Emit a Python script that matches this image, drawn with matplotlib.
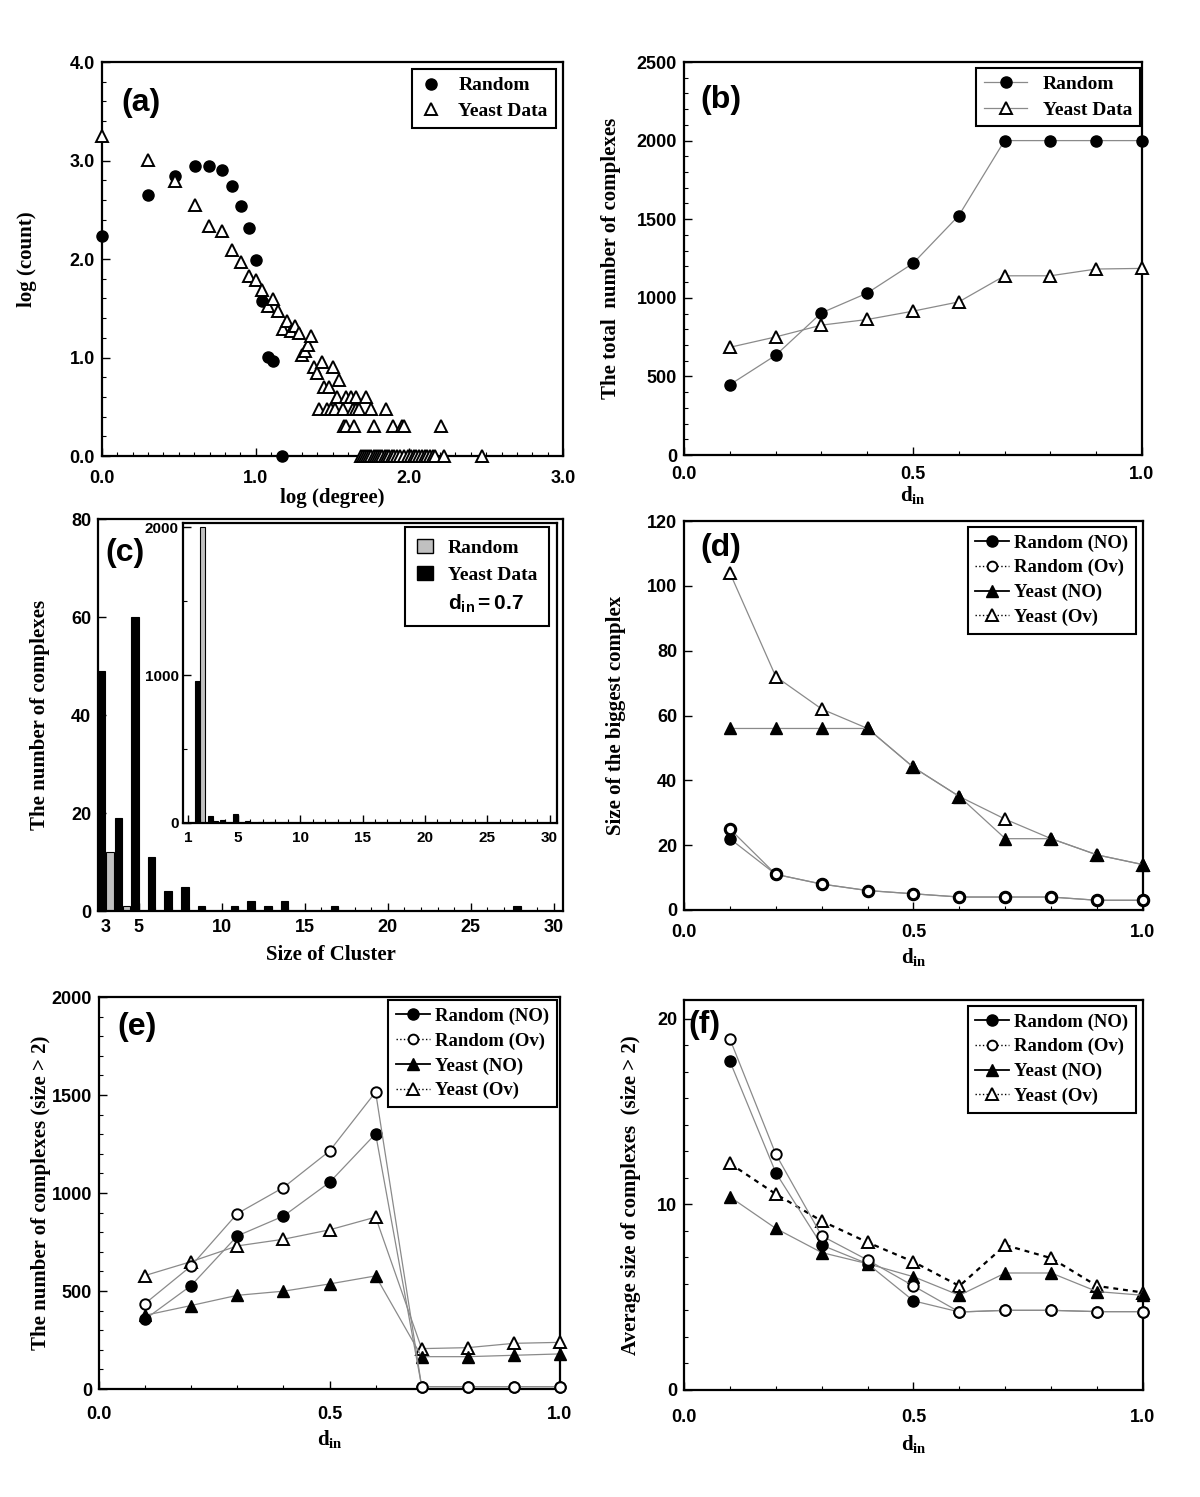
import numpy as np
import matplotlib
matplotlib.use("Agg")
import matplotlib.pyplot as plt
from matplotlib.lines import Line2D
from matplotlib.patches import Patch
from matplotlib.ticker import MultipleLocator

plt.rcParams['font.family'] = 'Liberation Serif'
plt.rcParams['mathtext.fontset'] = 'custom'
plt.rcParams['mathtext.rm'] = 'Liberation Serif:bold'
plt.rcParams['mathtext.it'] = 'Liberation Serif:bold'
plt.rcParams['mathtext.bf'] = 'Liberation Serif:bold'
plt.rcParams['mathtext.sf'] = 'Liberation Sans:bold'

# ---- (a) degree distribution (log10 values) ----
rand_logdeg = [0.0, 0.301, 0.477, 0.602, 0.699, 0.778, 0.845, 0.903, 0.954, 1.0,
               1.041, 1.079, 1.114, 1.17]
rand_logcnt = [2.23, 2.65, 2.84, 2.94, 2.94, 2.90, 2.74, 2.54, 2.31, 1.99,
               1.57, 1.01, 0.96, 0.0]
yeast_logdeg = [0.0, 0.301, 0.477, 0.602, 0.699, 0.778, 0.845, 0.903, 0.954, 1.0,
                1.041, 1.079, 1.114, 1.146, 1.176, 1.204, 1.23, 1.255, 1.279, 1.301,
                1.322, 1.342, 1.362, 1.38, 1.398, 1.431, 1.447, 1.477, 1.505, 1.544,
                1.531, 1.591, 1.623, 1.653, 1.716,
                1.415, 1.462, 1.491, 1.519, 1.568, 1.633, 1.653, 1.672, 1.748, 1.851,
                1.574, 1.587, 1.637, 1.767, 1.893, 1.952, 1.967, 2.207,
                1.685, 1.698, 1.709, 1.722, 1.735, 1.75, 1.767, 1.78, 1.793, 1.811,
                1.824, 1.839, 1.854, 1.87, 1.885, 1.902, 1.92, 1.941, 1.963, 1.989,
                2.011, 2.028, 2.046, 2.063, 2.08, 2.1, 2.115, 2.133, 2.152, 2.17,
                2.224, 2.472]
yeast_logcnt = [3.25, 3.01, 2.79, 2.55, 2.34, 2.28, 2.09, 1.97, 1.83, 1.79,
                1.69, 1.52, 1.59, 1.47, 1.29, 1.37, 1.27, 1.32, 1.25, 1.03,
                1.07, 1.13, 1.22, 0.90, 0.84, 0.95, 0.70, 0.70, 0.90, 0.77,
                0.602, 0.602, 0.602, 0.602, 0.602,
                0.477, 0.477, 0.477, 0.477, 0.477, 0.477, 0.477, 0.477, 0.477, 0.477,
                0.301, 0.301, 0.301, 0.301, 0.301, 0.301, 0.301, 0.301,
                0, 0, 0, 0, 0, 0, 0, 0, 0, 0,
                0, 0, 0, 0, 0, 0, 0, 0, 0, 0,
                0, 0, 0, 0, 0, 0, 0, 0, 0, 0,
                0, 0]

# ---- d_in axis shared by (b), (d), (e), (f) ----
d_in = [0.1, 0.2, 0.3, 0.4, 0.5, 0.6, 0.7, 0.8, 0.9, 1.0]

# (b) total number of complexes
b_random = [447, 634, 904, 1030, 1219, 1523, 2000, 2000, 2000, 2000]
b_yeast = [685, 751, 826, 862, 915, 974, 1140, 1140, 1183, 1187]

# (c) cluster size distribution at d_in = 0.7
c_sizes = list(range(2, 31))
c_random = [2000, 12, 1] + [0] * 26
c_yeast = [960, 49, 19, 60, 11, 4, 5, 1, 0, 1, 2, 1, 2, 0, 0, 1,
           0, 0, 0, 0, 0, 0, 0, 0, 0, 0, 1, 0, 0]

# (d) size of the biggest complex
d_rand_no = [22, 11, 8, 6, 5, 4, 4, 4, 3, 3]
d_rand_ov = [25, 11, 8, 6, 5, 4, 4, 4, 3, 3]
d_yeast_no = [56, 56, 56, 56, 44, 35, 22, 22, 17, 14]
d_yeast_ov = [104, 72, 62, 56, 44, 35, 28, 22, 17, 14]

# (e) number of complexes (size > 2)
e_rand_no = [356, 528, 781, 882, 1054, 1302, 12, 12, 12, 12]
e_rand_ov = [436, 628, 895, 1028, 1214, 1515, 12, 12, 12, 12]
e_yeast_no = [376, 426, 478, 499, 536, 577, 165, 165, 172, 179]
e_yeast_ov = [579, 650, 730, 764, 812, 877, 206, 211, 233, 238]

# (f) average size of complexes (size > 2)
f_rand_no = [17.7, 11.7, 7.8, 6.8, 4.8, 4.2, 4.29, 4.29, 4.22, 4.22]
f_rand_ov = [18.9, 12.7, 8.3, 7.0, 5.6, 4.2, 4.29, 4.29, 4.22, 4.22]
f_yeast_no = [10.4, 8.7, 7.4, 6.8, 6.1, 5.1, 6.3, 6.3, 5.3, 5.1]
f_yeast_ov = [12.2, 10.55, 9.1, 7.95, 6.9, 5.6, 7.8, 7.1, 5.6, 5.25]

W, H = 1200, 1497
GRAY = '#8a8a8a'
SANS = 'Liberation Sans'
LEG_FONT = {'family': 'Liberation Serif', 'weight': 'bold', 'size': 14}
LEG_FONT4 = {'family': 'Liberation Serif', 'weight': 'bold', 'size': 13.5}


def box(x0, x1, y0, y1):
    return [x0 / W, 1 - y1 / H, (x1 - x0) / W, (y1 - y0) / H]


def style(ax, xticks, xlabels, yticks, ylabels, xminor=None, yminor=None, size=13,
          xpad=10):
    ax.set_xticks(xticks, xlabels, fontfamily=SANS, fontweight='bold', fontsize=size)
    ax.set_yticks(yticks, ylabels, fontfamily=SANS, fontweight='bold', fontsize=size)
    if xminor:
        ax.xaxis.set_minor_locator(MultipleLocator(xminor))
    if yminor:
        ax.yaxis.set_minor_locator(MultipleLocator(yminor))
    ax.tick_params(which='both', direction='in', top=False, right=False)
    ax.tick_params(which='major', length=6, width=1)
    ax.tick_params(which='minor', length=3, width=0.8)
    ax.tick_params(axis='x', pad=xpad)
    ax.tick_params(axis='y', pad=5)
    for sp in ax.spines.values():
        sp.set_linewidth(1.6)


def labels(ax, xl, yl, xy, yx, tag, tagpos):
    ax.set_xlabel(xl, fontsize=15, fontweight='bold', va='top')
    ax.xaxis.set_label_coords(0.5, xy)
    ax.set_ylabel(yl, fontsize=15, fontweight='bold')
    ax.yaxis.set_label_coords(yx, 0.5)
    ax.text(tagpos[0], tagpos[1], tag, transform=ax.transAxes, fontsize=23,
            fontweight='bold', family=SANS, ha='left', va='center')


def legend(ax, handles, labs, anchor, prop=LEG_FONT, **kw):
    leg = ax.legend(handles, labs, loc='upper right', bbox_to_anchor=anchor,
                    borderaxespad=0, fancybox=False, framealpha=1,
                    edgecolor='black', prop=prop, **kw)
    leg.get_frame().set_linewidth(1.5)
    return leg


DIN = r'$\mathbf{d_{in}}$'
fig = plt.figure(figsize=(12, 14.97), dpi=100)

# ---------------- (a) ----------------
ax = fig.add_axes(box(102, 563, 62, 456))
ax.plot(rand_logdeg, rand_logcnt, 'o', color='black', ms=8, clip_on=False, zorder=3)
ax.plot(yeast_logdeg, yeast_logcnt, '^', mfc='white', mec='black', mew=1.4, ms=8.5,
        clip_on=False, zorder=3)
ax.set_xlim(0, 3)
ax.set_ylim(0, 4)
style(ax, [0, 1, 2, 3], ['0.0', '1.0', '2.0', '3.0'],
      [0, 1, 2, 3, 4], ['0.0', '1.0', '2.0', '3.0', '4.0'], 0.1, 0.2)
labels(ax, 'log (degree)', 'log (count)', -0.082, -0.14, '(a)', (0.043, 0.896))
legend(ax, [Line2D([], [], ls='none', marker='o', color='black', ms=8),
            Line2D([], [], ls='none', marker='^', mfc='white', mec='black', mew=1.4, ms=8.5)],
       ['Random', 'Yeast Data'], (0.984, 0.982), handlelength=1.2, labelspacing=0.4)

# ---------------- (b) ----------------
ax = fig.add_axes(box(684, 1142, 62, 455))
ax.plot(d_in, b_random, '-o', color=GRAY, lw=0.9, mfc='black', mec='black', ms=8,
        clip_on=False, zorder=3)
ax.plot(d_in, b_yeast, '-^', color=GRAY, lw=0.9, mfc='white', mec='black', mew=1.4,
        ms=8.5, clip_on=False, zorder=3)
ax.set_xlim(0, 1)
ax.set_ylim(0, 2500)
style(ax, [0, 0.5, 1], ['0.0', '0.5', '1.0'], np.arange(0, 2501, 500),
      [str(v) for v in range(0, 2501, 500)], 0.1, 100, xpad=8)
labels(ax, DIN, 'The total  number of complexes', -0.075, -0.137, '(b)', (0.035, 0.903))
legend(ax, [Line2D([], [], color=GRAY, lw=0.9, marker='o', mfc='black', mec='black', ms=8),
            Line2D([], [], color=GRAY, lw=0.9, marker='^', mfc='white', mec='black',
                   mew=1.4, ms=8.5)],
       ['Random', 'Yeast Data'], (0.995, 0.985), handlelength=2.2, labelspacing=0.4)

# ---------------- (c) ----------------
ax = fig.add_axes(box(98, 563, 519, 911))
ax.bar(c_sizes[1:], c_yeast[1:], width=-0.45, align='edge', color='black',
       edgecolor='black', lw=0.8)
ax.bar(np.array(c_sizes[1:]) + 0.05, c_random[1:], width=0.45, align='edge',
       color='#c0c0c0', edgecolor='black', lw=0.8)
ax.set_xlim(2.55, 30.55)
ax.set_ylim(0, 80)
style(ax, [3, 5, 10, 15, 20, 25, 30], ['3', '5', '10', '15', '20', '25', '30'],
      [0, 20, 40, 60, 80], ['0', '20', '40', '60', '80'], 1, None, xpad=6)
labels(ax, 'Size of Cluster', 'The number of complexes', -0.088, -0.103, '(c)',
       (0.015, 0.913))

ins = fig.add_axes(box(183, 557, 523, 823))
ins.bar(c_sizes, c_yeast, width=-0.4, align='edge', color='black', edgecolor='black',
        lw=0.8)
ins.bar(c_sizes, c_random, width=0.4, align='edge', color='#c0c0c0',
        edgecolor='black', lw=0.8)
ins.set_xlim(0.6, 30.6)
ins.set_ylim(0, 2030)
style(ins, [1, 5, 10, 15, 20, 25, 30], ['1', '5', '10', '15', '20', '25', '30'],
      [0, 1000, 2000], ['0', '1000', '2000'], 1, 500, size=11, xpad=6)
ins.tick_params(axis='y', pad=3)
leg = legend(ins, [Patch(facecolor='#c0c0c0', edgecolor='black'),
                   Patch(facecolor='black', edgecolor='black'),
                   Line2D([], [], ls='none')],
             ['Random', 'Yeast Data', r'$\mathsf{d_{in}=0.7}$'], (0.979, 0.987),
             handlelength=0.8, handleheight=0.8, labelspacing=0.45,
             borderpad=0.6)
leg.get_texts()[2].set_fontsize(15)

# ---------------- line panels (d), (e), (f) ----------------
def four_handles(ov_style=':'):
    return [Line2D([], [], color='black', lw=1.3, marker='o', mfc='black', mec='black', ms=8),
            Line2D([], [], color='black', lw=1, ls=ov_style, marker='o', mfc='white',
                   mec='black', mew=1.4, ms=7),
            Line2D([], [], color='black', lw=1.3, marker='^', mfc='black', mec='black', ms=8.5),
            Line2D([], [], color='black', lw=1, ls=ov_style, marker='^', mfc='white',
                   mec='black', mew=1.4, ms=8)]


FOUR = ['Random (NO)', 'Random (Ov)', 'Yeast (NO)', 'Yeast (Ov)']


def four_series(ax, rno, rov, yno, yov, yov_dashed=False, ring=1.4):
    kw = dict(clip_on=False, zorder=3)
    if yov_dashed:
        ax.plot(d_in, yov, '^', ls=(0, (2.2, 2.2)), color='black', lw=1.6,
                mfc='white', mec='black', mew=1.4, ms=8.5, **kw)
    else:
        ax.plot(d_in, yov, '-^', color=GRAY, lw=0.9, mfc='white', mec='black', mew=1.4,
                ms=8.5, **kw)
    ax.plot(d_in, yno, '-^', color=GRAY, lw=0.9, mfc='black', mec='black', ms=8.5, **kw)
    ax.plot(d_in, rno, '-o', color=GRAY, lw=0.9, mfc='black', mec='black', ms=8, **kw)
    ax.plot(d_in, rov, '-o', color=GRAY, lw=0.9, mfc='white', mec='black', mew=ring,
            ms=7.5, **kw)


LEG4 = dict(prop=LEG_FONT4, handlelength=1.8, labelspacing=0.4, handletextpad=0.3)

# (d)
ax = fig.add_axes(box(684, 1143, 521, 910))
four_series(ax, d_rand_no, d_rand_ov, d_yeast_no, d_yeast_ov, ring=2.2)
ax.set_xlim(0, 1)
ax.set_ylim(0, 120)
style(ax, [0, 0.5, 1], ['0.0', '0.5', '1.0'], np.arange(0, 121, 20),
      [str(v) for v in range(0, 121, 20)], 0.1, None)
labels(ax, DIN, 'Size of the biggest complex', -0.092, -0.126, '(d)', (0.035, 0.93))
legend(ax, four_handles(), FOUR, (0.985, 0.985), **LEG4)

# (e)
ax = fig.add_axes(box(99, 560, 997, 1389))
four_series(ax, e_rand_no, e_rand_ov, e_yeast_no, e_yeast_ov)
ax.set_xlim(0, 1)
ax.set_ylim(0, 2000)
style(ax, [0, 0.5, 1], ['0.0', '0.5', '1.0'], np.arange(0, 2001, 500),
      [str(v) for v in range(0, 2001, 500)], 0.1, 100, xpad=12)
labels(ax, DIN, 'The number of complexes (size > 2)', -0.1, -0.104, '(e)',
       (0.04, 0.923))
legend(ax, four_handles(), FOUR, (0.993, 0.992), **LEG4)

# (f)
ax = fig.add_axes(box(684, 1143, 1000, 1390))
four_series(ax, f_rand_no, f_rand_ov, f_yeast_no, f_yeast_ov, yov_dashed=True)
ax.set_xlim(0, 1)
ax.set_ylim(0, 21)
style(ax, [0, 0.5, 1], ['0.0', '0.5', '1.0'], [0, 10, 20], ['0', '10', '20'],
      0.1, 10 / 7, xpad=14)
labels(ax, DIN, 'Average size of complexes  (size > 2)', -0.11, -0.094, '(f)',
       (0.01, 0.936))
legend(ax, four_handles(), FOUR, (0.985, 0.985), **LEG4)

fig.savefig('out.png', dpi=100)
